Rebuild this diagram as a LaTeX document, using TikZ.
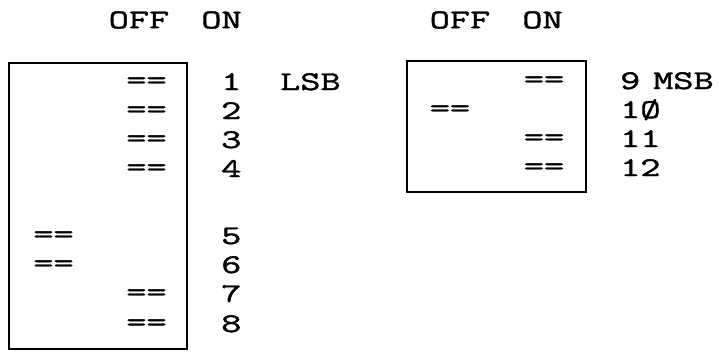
\documentclass[tikz,border=0pt]{standalone}
\usepackage{fontspec}
\setmonofont[FakeStretch=1.45,FakeBold=1.6]{Latin Modern Mono}
\usetikzlibrary{positioning}

\begin{document}
\begin{tikzpicture}[x=1pt, y=-1pt]

\tikzset{swtext/.style={font=\ttfamily\fontsize{27}{27}\selectfont,inner sep=0pt},
bitnum/.style={swtext,anchor=base west},
boxline/.style={line width=2.8pt}}

\useasboundingbox (0,0) rectangle (719,351);

% Headers
\node[swtext] (offA) at (139,20) {OFF};
\node[swtext] (onA) at (221.5,20) {ON};
\node[swtext] (offB) at (460,20) {OFF};
\node[swtext] (onB) at (542.5,20) {ON};

% Boxes
\draw[boxline] (9,63) rectangle (187,349);
\draw[boxline] (407,61) rectangle (586,192);

% Switches, first box
\foreach \y/\x [count=\n] in {83/146.5, 112/146.5, 141/146.5, 170/146.5, 237/53.5, 266/53.5, 295/146.5, 325/146.5} \node[swtext] (swA\n) at (\x,\y) {==};
\foreach \y [count=\n] in {83, 112, 141, 170, 237, 266, 295, 325} \node[bitnum] (bitA\n) at (221,\y+7) {\n};
\node[bitnum] (lsb) at (280,90) {LSB};

% Switches, second box
\foreach \y/\x [count=\n] in {82/544, 111/450, 140/544, 169/544} \node[swtext] (swB\n) at (\x,\y) {==};
\node[bitnum] (bitB1) at (620,89) {9};
\node[bitnum] (msb) at (653,89) {MSB};
\node[bitnum] (bitB2) at (620,118) {1Ø};
\node[bitnum] (bitB3) at (620,147) {11};
\node[bitnum] (bitB4) at (620,176) {12};

\end{tikzpicture}
\end{document}
